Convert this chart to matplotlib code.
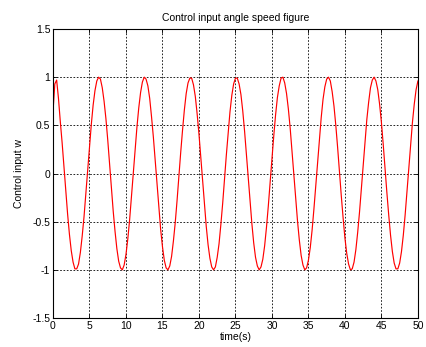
import numpy as np
import matplotlib
matplotlib.use("Agg")
import matplotlib.pyplot as plt

# time grid of the sampled curve (s)
t_step = 0.25
t_end = 50.0
# control input w, one value per 0.25 s
w = [0.64, 0.93, 0.97, 0.78, 0.54, 0.32, 0.07, -0.18, -0.42, -0.63,
     -0.80, -0.92, -0.99, -0.99, -0.94, -0.82, -0.65, -0.45, -0.21, 0.04,
     0.28, 0.51, 0.71, 0.86, 0.96, 1.00, 0.98, 0.89, 0.75, 0.57,
     0.35, 0.10, -0.15, -0.39, -0.60, -0.78, -0.91, -0.98, -1.00, -0.95,
     -0.84, -0.68, -0.48, -0.24, 0.00, 0.25, 0.48, 0.68, 0.84, 0.95,
     1.00, 0.98, 0.91, 0.78, 0.59, 0.38, 0.14, -0.11, -0.35, -0.58,
     -0.76, -0.90, -0.98, -1.00, -0.96, -0.86, -0.70, -0.51, -0.28, -0.03,
     0.22, 0.45, 0.66, 0.83, 0.94, 0.99, 0.99, 0.92, 0.80, 0.62,
     0.41, 0.17, -0.08, -0.32, -0.55, -0.74, -0.88, -0.97, -1.00, -0.97,
     -0.87, -0.73, -0.53, -0.31, -0.06, 0.19, 0.42, 0.64, 0.81, 0.93,
     0.99, 0.99, 0.93, 0.82, 0.65, 0.44, 0.20, -0.05, -0.29, -0.52,
     -0.72, -0.87, -0.96, -1.00, -0.97, -0.89, -0.75, -0.56, -0.34, -0.09,
     0.15, 0.39, 0.61, 0.79, 0.91, 0.99, 1.00, 0.94, 0.83, 0.67,
     0.47, 0.23, -0.01, -0.26, -0.49, -0.69, -0.85, -0.95, -1.00, -0.98,
     -0.90, -0.77, -0.59, -0.37, -0.13, 0.12, 0.36, 0.58, 0.77, 0.90,
     0.98, 1.00, 0.96, 0.85, 0.70, 0.50, 0.27, 0.02, -0.23, -0.46,
     -0.67, -0.83, -0.94, -1.00, -0.99, -0.92, -0.79, -0.61, -0.40, -0.16,
     0.09, 0.33, 0.56, 0.74, 0.89, 0.97, 1.00, 0.96, 0.87, 0.72,
     0.53, 0.30, 0.05, -0.20, -0.43, -0.64, -0.81, -0.93, -0.99, -0.99,
     -0.93, -0.81, -0.64, -0.43, -0.19, 0.05, 0.30, 0.53, 0.72, 0.87,
     0.96]
t = np.arange(len(w)) * t_step

x_ticks = [0, 5, 10, 15, 20, 25, 30, 35, 40, 45, 50]
y_ticks = [-1.5, -1, -0.5, 0, 0.5, 1, 1.5]
y_labels = ['-1.5', '-1', '-0.5', '0', '0.5', '1', '1.5']

plt.rcParams['font.family'] = ['Liberation Sans', 'DejaVu Sans']
fs = 7.5

fig = plt.figure(figsize=(4.26, 3.47), dpi=100)
ax = fig.add_axes([0.1244, 0.0836, 0.8566, 0.8328])
ax.plot(t, w, color='red', linewidth=0.85)

ax.set_xlim(0, t_end)
ax.set_ylim(-1.5, 1.5)
ax.set_xticks(x_ticks)
ax.set_yticks(y_ticks)
ax.set_yticklabels(y_labels)
ax.tick_params(direction='in', length=3, width=0.6, labelsize=fs,
               top=True, right=True, pad=2)
ax.grid(True, color='black', linestyle=(0, (2, 2)), linewidth=0.6)
for s in ax.spines.values():
    s.set_linewidth(0.8)

ax.set_title('Control input angle speed figure', fontsize=fs, pad=6)
ax.set_xlabel('time(s)', fontsize=fs, labelpad=1)
ax.set_ylabel('Control input w', fontsize=fs, labelpad=6)

fig.savefig('out.png', dpi=100)
